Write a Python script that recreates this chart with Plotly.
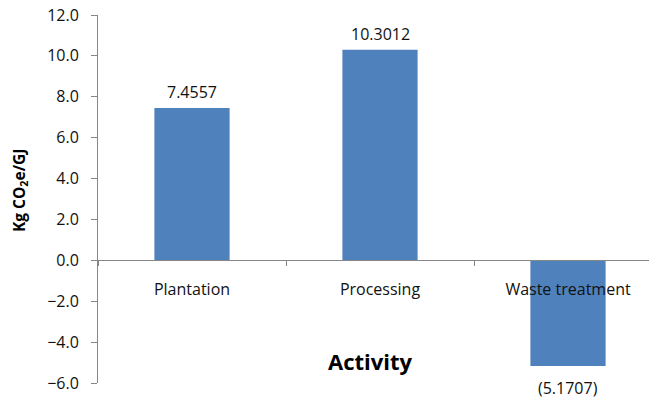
import plotly.graph_objects as go

categories = ["Plantation", "Processing", "Waste treatment"]
values = [7.4557, 10.3012, -5.1707]
y_ticks = [-6, -4, -2, 0, 2, 4, 6, 8, 10, 12]
y_title = "Kg CO<sub>2</sub>e/GJ"
x_title = "Activity"

labels = [f"{v:.4f}" if v >= 0 else f"({-v:.4f})" for v in values]

W, H = 649, 398
ML, MR, MT, MB = 98, 0, 15, 15
ymin, ymax = -6, 12
plot_w = W - ML - MR
plot_h = H - MT - MB
# category spacing ~188px; plot continues slightly beyond the right edge
cat_px = 188
x_hi = -0.5 + plot_w / cat_px

font_family = "Open Sans, Noto Sans, sans-serif"
axis_col = "#878787"
txt_col = "#111111"

fig = go.Figure()
fig.add_trace(go.Bar(
    x=categories, y=values, width=0.4,
    marker=dict(color="#4F81BD", line=dict(width=0)),
    cliponaxis=False, hoverinfo="skip",
))

for c, v, t in zip(categories, values, labels):
    fig.add_annotation(
        x=c, y=v, xref="x", yref="y", text=t, showarrow=False,
        yanchor="middle", yshift=16 if v >= 0 else -22,
        font=dict(family=font_family, size=16, color=txt_col),
    )

fig.add_annotation(
    x=(370 - ML) / plot_w, y=(H - MB - 361) / plot_h, xref="paper", yref="paper",
    text=f"<b>{x_title}</b>", showarrow=False, xanchor="center", yanchor="middle",
    font=dict(family=font_family, size=22, color="#000000"),
)
fig.add_annotation(
    x=(19 - ML) / plot_w, y=(H - MB - 191) / plot_h, xref="paper", yref="paper",
    text=f"<b>{y_title}</b>", showarrow=False, textangle=-90,
    xanchor="center", yanchor="middle",
    font=dict(family=font_family, size=15.5, color="#000000"),
)

fig.update_layout(
    width=W, height=H,
    margin=dict(l=ML, r=MR, t=MT, b=MB, pad=0),
    paper_bgcolor="white", plot_bgcolor="white",
    showlegend=False,
    font=dict(family=font_family, size=16, color=txt_col),
    xaxis=dict(
        type="category", range=[-0.5, x_hi],
        anchor="free", position=(0 - ymin) / (ymax - ymin),
        showline=True, linecolor=axis_col, linewidth=1,
        ticks="outside", tickson="boundaries", ticklen=5, tickcolor=axis_col,
        showgrid=False, zeroline=False,
        tickfont=dict(family=font_family, size=16, color=txt_col),
        ticklabelstandoff=14,
    ),
    yaxis=dict(
        range=[ymin, ymax], tickvals=y_ticks, tickformat=".1f",
        showline=True, linecolor=axis_col, linewidth=1,
        ticks="outside", ticklen=6, tickcolor=axis_col,
        showgrid=False, zeroline=False,
        tickfont=dict(family=font_family, size=16, color=txt_col),
        ticklabelstandoff=9,
    ),
)

fig.write_html("out.html")
